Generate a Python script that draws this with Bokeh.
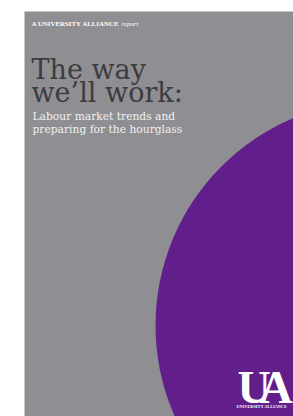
from bokeh.plotting import figure
from bokeh.models import Range1d
from bokeh.core.properties import value
from bokeh.embed import file_html
from bokeh.resources import INLINE

# Cover content
header_main = ["A UNIVERSITY ALLIANCE"]
header_italic = ["report"]
title_lines = ["The way", "we\u2019ll work:"]
subtitle_lines = ["Labour market trends and", "preparing for the hourglass"]
logo_letters = ["U", "A"]
logo_caption = ["UNIVERSITY ALLIANCE"]

# Shapes (page coordinates, px)
panel_left, panel_top, panel_right, panel_bottom = [24], [11], [293], [416]
disc_x, disc_y, disc_r = [380], [325], [225]

W, H = 293, 416
X0, Y0 = 0, 0
p = figure(width=W, height=H, output_backend="svg", toolbar_location=None,
           x_range=Range1d(X0, X0 + W), y_range=Range1d(Y0 + H, Y0),
           min_border=0, background_fill_color="white", border_fill_color="white")
p.axis.visible = False
p.grid.visible = False
p.outline_line_color = None

p.quad(left=panel_left, right=panel_right, top=panel_top, bottom=panel_bottom,
       fill_color="#8f8e93", line_color=None)
p.circle(x=disc_x, y=disc_y, radius=disc_r[0], fill_color="#621e8b", line_color=None)

p.text(x=[31], y=[23], text=header_main, text_font=value("Liberation Serif"),
       text_font_size="6.9px", text_font_style="bold", text_color="white",
       text_baseline="alphabetic")
p.text(x=[121], y=[23], text=header_italic, text_font=value("Liberation Serif"),
       text_font_size="6.9px", text_font_style="italic", text_color="white",
       text_baseline="alphabetic")

p.text(x=[31, 31], y=[69, 92], text=title_lines, text_font=value("DejaVu Serif"),
       text_font_size="27px", text_color="#3c3c3f", text_baseline="alphabetic")
p.text(x=[32, 32], y=[116, 129], text=subtitle_lines, text_font=value("DejaVu Serif"),
       text_font_size="10.7px", text_color="#f0f0f0", text_baseline="alphabetic")

p.text(x=[237, 259], y=[387, 387], text=logo_letters, text_font=value("Liberation Serif"),
       text_font_size="46px", text_font_style="bold", text_color="white",
       text_baseline="alphabetic")
p.text(x=[236], y=[406], text=logo_caption, text_font=value("Liberation Serif"),
       text_font_size="4.3px", text_font_style="bold", text_color="white",
       text_baseline="alphabetic")

open("out.html", "w").write(file_html(p, INLINE))
